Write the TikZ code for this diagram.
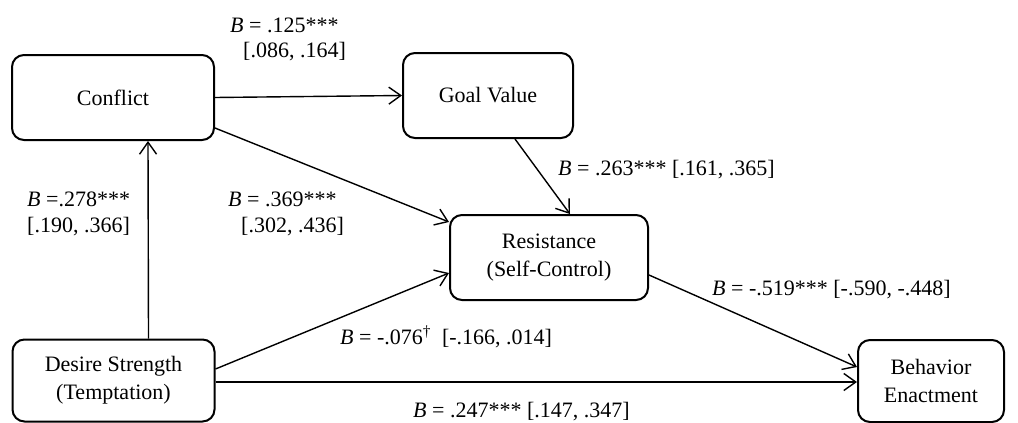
\documentclass[tikz,border=0pt]{standalone}
\usepackage{fontspec}
\setmainfont{Liberation Serif}
\usetikzlibrary{arrows.meta}
\begin{document}
\begin{tikzpicture}[x=1pt,y=-1pt,
  box/.style={draw, line width=2pt, rounded corners=12pt, align=center,
    font=\fontsize{22}{28}\selectfont, inner sep=0pt},
  conn/.style={line width=1.4pt, -{Straight Barb[length=12pt,width=17pt,line width=1.4pt]}},
  lab/.style={anchor=west, inner sep=0pt, font=\fontsize{22}{26}\selectfont}]
\useasboundingbox (0,0) rectangle (1018,423);
\node[box, minimum width=202pt, minimum height=85pt] (conflict) at (113,97.5) {Conflict};
\node[box, minimum width=170pt, minimum height=85pt] (goal) at (488,95.5) {Goal Value};
\node[box, minimum width=198pt, minimum height=85pt] (resist) at (549,257.5) {Resistance\\(Self-Control)};
\node[box, minimum width=202pt, minimum height=82pt] (desire) at (113.5,380.5) {Desire Strength\\(Temptation)};
\node[box, minimum width=146pt, minimum height=82pt] (behav) at (931,381) {Behavior\\Enactment};

\draw[conn] (conflict.east) -- (goal.west);
\draw[conn] ([xshift=35pt]desire.north) -- ([xshift=35pt]conflict.south);
\draw[conn] ([yshift=-30.5pt]conflict.east) -- ([yshift=35.5pt]resist.west);
\draw[conn] ([xshift=27pt]goal.south) -- ([xshift=21pt]resist.north);
\draw[conn] ([yshift=11.5pt]desire.east) -- ([yshift=-15.5pt]resist.west);
\draw[conn] ([yshift=-1.5pt]desire.east) -- ([yshift=-1pt]behav.west);
\draw[conn] ([yshift=-17.5pt]resist.east) -- ([yshift=14pt]behav.west);

\node[lab] (l1a) at (230,25) {\textit{B} = .125***};
\node[lab] (l1b) at (243,52) {[.086, .164]};
\node[lab] (l2) at (558,170) {\textit{B} = .263*** [.161, .365]};
\node[lab] (l3a) at (27,199) {\textit{B} =.278***};
\node[lab] (l3b) at (27,227) {[.190, .366]};
\node[lab] (l4a) at (228,199) {\textit{B} = .369***};
\node[lab] (l4b) at (241,227) {[.302, .436]};
\node[lab] (l5) at (340,337) {\textit{B} = -.076\textsuperscript{\dag}\ \ [-.166, .014]};
\node[lab] (l6) at (712,290) {\textit{B} = -.519*** [-.590, -.448]};
\node[lab] (l7) at (413,412) {\textit{B} = .247*** [.147, .347]};
\end{tikzpicture}
\end{document}
